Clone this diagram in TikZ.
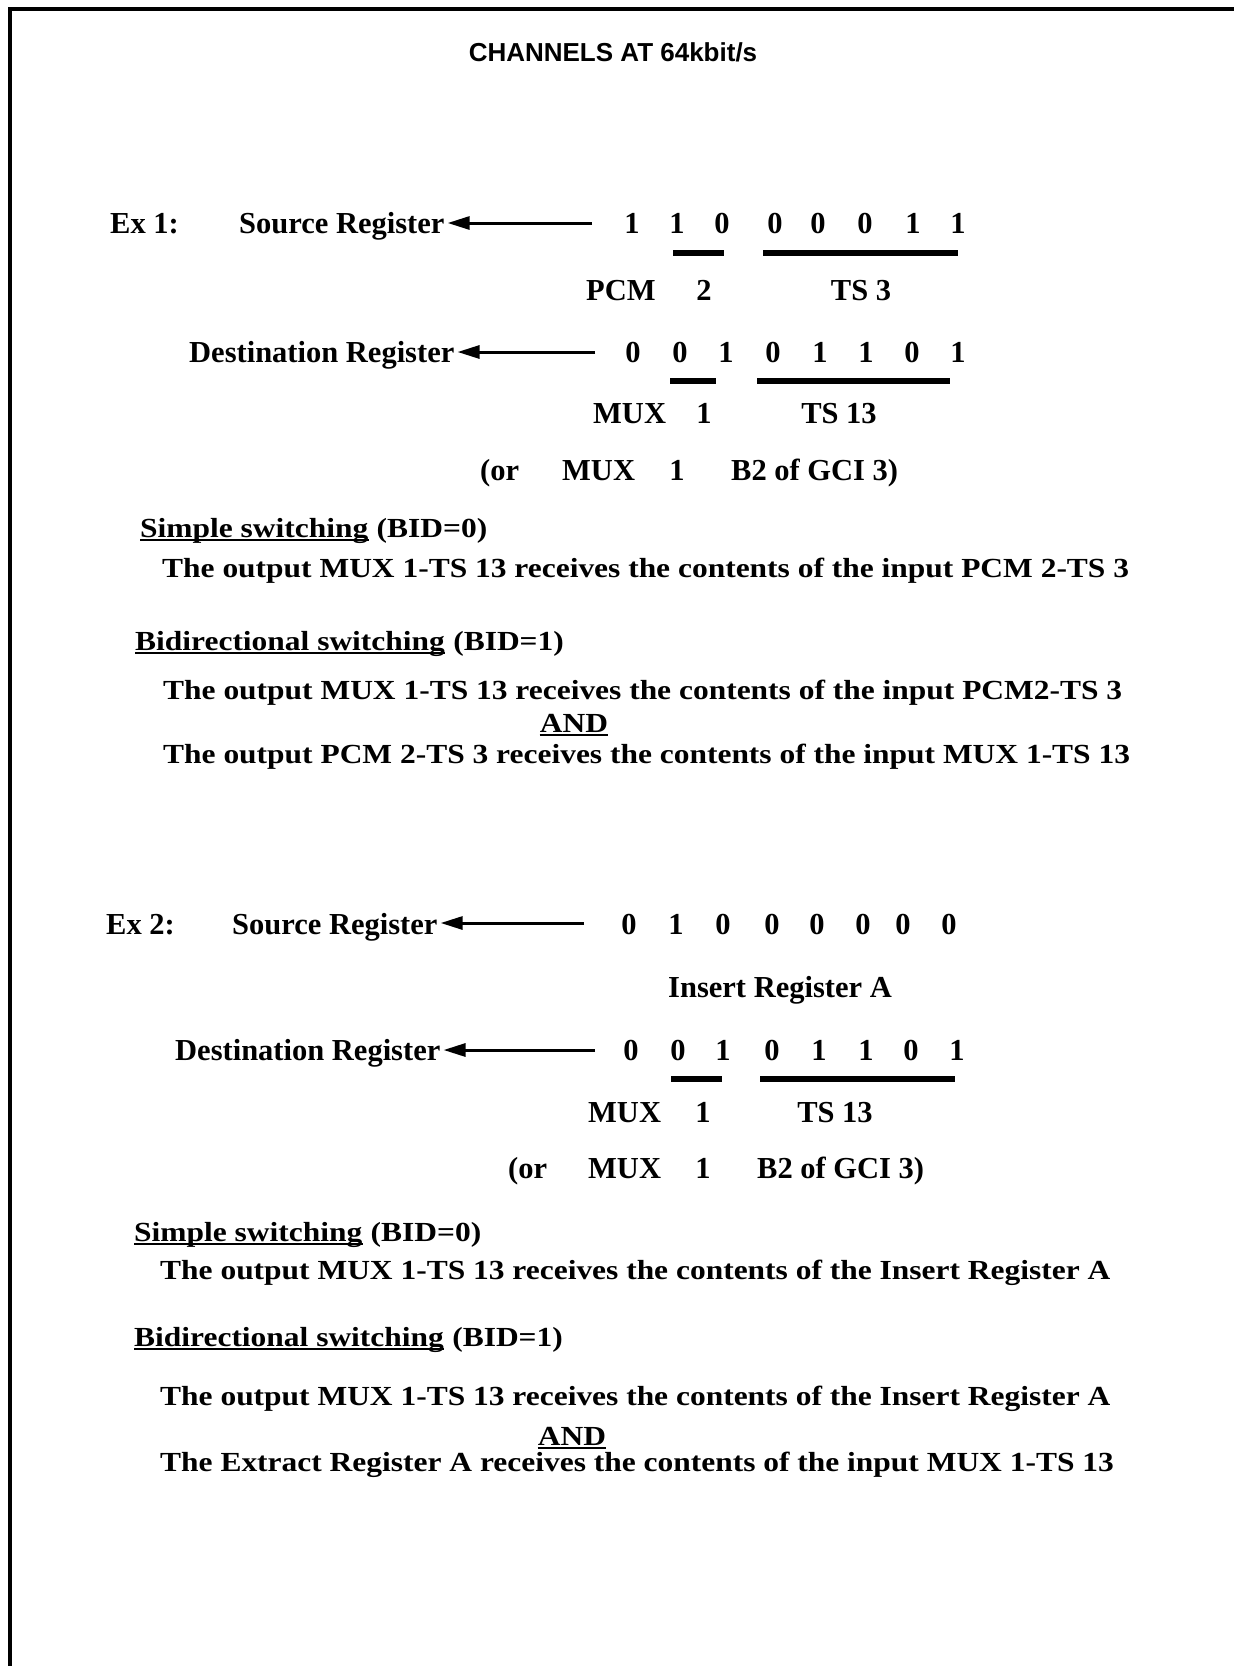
\documentclass[tikz,border=0pt]{standalone}
\usepackage{fontspec}
\usetikzlibrary{arrows.meta}
\setmainfont{Liberation Serif}
\newfontfamily\widefont{Liberation Serif}[FakeStretch=1.14]
\newfontfamily\headfont{Liberation Sans}
\newcommand{\regfont}{\fontsize{30.5}{36}\selectfont\bfseries}
\newcommand{\txtfont}{\widefont\fontsize{27.6}{33}\selectfont\bfseries}
\begin{document}
\begin{tikzpicture}[x=1pt,y=-1pt,
  reg/.style={anchor=base west,inner sep=0pt,font=\regfont},
  bit/.style={anchor=base,inner sep=0pt,font=\regfont},
  txt/.style={anchor=base west,inner sep=0pt,font=\txtfont},
  bid/.style={txt,xshift=8pt},
  regarrow/.style={line width=3pt,-{Triangle[length=22pt,width=13pt]}},
  bar/.style={line width=6pt},
  uline/.style={line width=2pt}]
  \useasboundingbox (0,0) rectangle (1234,1666);
  \draw[line width=3.5pt] (10,1666) -- (10,9) -- (1234,9);
  \node[anchor=base,inner sep=0pt,font=\headfont\fontsize{26}{30}\selectfont\bfseries] (title) at (613,61) {CHANNELS AT 64kbit/s};

  \node[reg] (exA) at (110,233) {Ex 1:};
  \node[reg] (srcA) at (239,233) {Source Register};
  \foreach \x/\v [count=\i] in {632/1,677/1,722/0,775/0,818/0,865/0,913/1,958/1}
    \node[bit] (srcA\i) at (\x,233) {\v};
  \coordinate (srcAin) at (592,223);
  \draw[regarrow] (srcAin) -- ([xshift=3pt]srcAin -| srcA.east);
  \draw[bar] (673,253) -- (724,253);
  \draw[bar] (763,253) -- (958,253);
  \node[reg] (pcmA) at (586,300) {PCM};
  \node[bit] (pcmAnum) at (704,300) {2};
  \node[bit] (tsA) at (861,300) {TS 3};

  \node[reg] (dstA) at (189,362) {Destination Register};
  \foreach \x/\v [count=\i] in {633/0,680/0,726/1,773/0,820/1,866/1,912/0,958/1}
    \node[bit] (dstA\i) at (\x,362) {\v};
  \coordinate (dstAin) at (595,352);
  \draw[regarrow] (dstAin) -- ([xshift=3pt]dstAin -| dstA.east);
  \draw[bar] (670,381) -- (716,381);
  \draw[bar] (757,381) -- (950,381);
  \node[reg] (muxA) at (593,423) {MUX};
  \node[bit] (muxAnum) at (704,423) {1};
  \node[bit] (tsAdst) at (839,423) {TS 13};
  \node[reg] (orA) at (480,480) {(or};
  \node[reg] (orAmux) at (562,480) {MUX};
  \node[bit] (orAnum) at (677,480) {1};
  \node[reg] (orAgci) at (731,480) {B2 of GCI 3)};

  \node[txt] (simpA) at (140,537) {Simple switching};
  \node[bid] (simpAbid) at (simpA.base east) {(BID=0)};
  \draw[uline] ([yshift=-3pt]simpA.base west) -- ([yshift=-3pt]simpA.base east);
  \node[txt] (simpAtxt) at (162,577) {The output MUX 1-TS 13 receives the contents of the input PCM 2-TS 3};
  \node[txt] (bidiA) at (135,650) {Bidirectional switching};
  \node[bid] (bidiAbid) at (bidiA.base east) {(BID=1)};
  \draw[uline] ([yshift=-3pt]bidiA.base west) -- ([yshift=-3pt]bidiA.base east);
  \node[txt] (bidiAone) at (163,699) {The output MUX 1-TS 13 receives the contents of the input PCM2-TS 3};
  \node[txt,anchor=base] (andA) at (574,732) {AND};
  \draw[uline] ([yshift=-3pt]andA.base west) -- ([yshift=-3pt]andA.base east);
  \node[txt] (bidiAtwo) at (163,763) {The output PCM 2-TS 3 receives the contents of the input MUX 1-TS 13};

  \node[reg] (exB) at (106,934) {Ex 2:};
  \node[reg] (srcB) at (232,934) {Source Register};
  \foreach \x/\v [count=\i] in {629/0,676/1,723/0,772/0,817/0,863/0,903/0,949/0}
    \node[bit] (srcB\i) at (\x,934) {\v};
  \coordinate (srcBin) at (584,923);
  \draw[regarrow] (srcBin) -- ([xshift=3pt]srcBin -| srcB.east);
  \node[bit] (insB) at (780,997) {Insert Register A};

  \node[reg] (dstB) at (175,1060) {Destination Register};
  \foreach \x/\v [count=\i] in {631/0,678/0,723/1,772/0,819/1,866/1,911/0,957/1}
    \node[bit] (dstB\i) at (\x,1060) {\v};
  \coordinate (dstBin) at (595,1050);
  \draw[regarrow] (dstBin) -- ([xshift=3pt]dstBin -| dstB.east);
  \draw[bar] (671,1079) -- (722,1079);
  \draw[bar] (760,1079) -- (955,1079);
  \node[reg] (muxB) at (588,1122) {MUX};
  \node[bit] (muxBnum) at (703,1122) {1};
  \node[bit] (tsBdst) at (835,1122) {TS 13};
  \node[reg] (orB) at (508,1178) {(or};
  \node[reg] (orBmux) at (588,1178) {MUX};
  \node[bit] (orBnum) at (703,1178) {1};
  \node[reg] (orBgci) at (757,1178) {B2 of GCI 3)};

  \node[txt] (simpB) at (134,1241) {Simple switching};
  \node[bid] (simpBbid) at (simpB.base east) {(BID=0)};
  \draw[uline] ([yshift=-3pt]simpB.base west) -- ([yshift=-3pt]simpB.base east);
  \node[txt] (simpBtxt) at (160,1279) {The output MUX 1-TS 13 receives the contents of the Insert Register A};
  \node[txt] (bidiB) at (134,1346) {Bidirectional switching};
  \node[bid] (bidiBbid) at (bidiB.base east) {(BID=1)};
  \draw[uline] ([yshift=-3pt]bidiB.base west) -- ([yshift=-3pt]bidiB.base east);
  \node[txt] (bidiBone) at (160,1405) {The output MUX 1-TS 13 receives the contents of the Insert Register A};
  \node[txt,anchor=base] (andB) at (572,1445) {AND};
  \draw[uline] ([yshift=-3pt]andB.base west) -- ([yshift=-3pt]andB.base east);
  \node[txt] (bidiBtwo) at (160,1471) {The Extract Register A receives the contents of the input MUX 1-TS 13};
\end{tikzpicture}
\end{document}
